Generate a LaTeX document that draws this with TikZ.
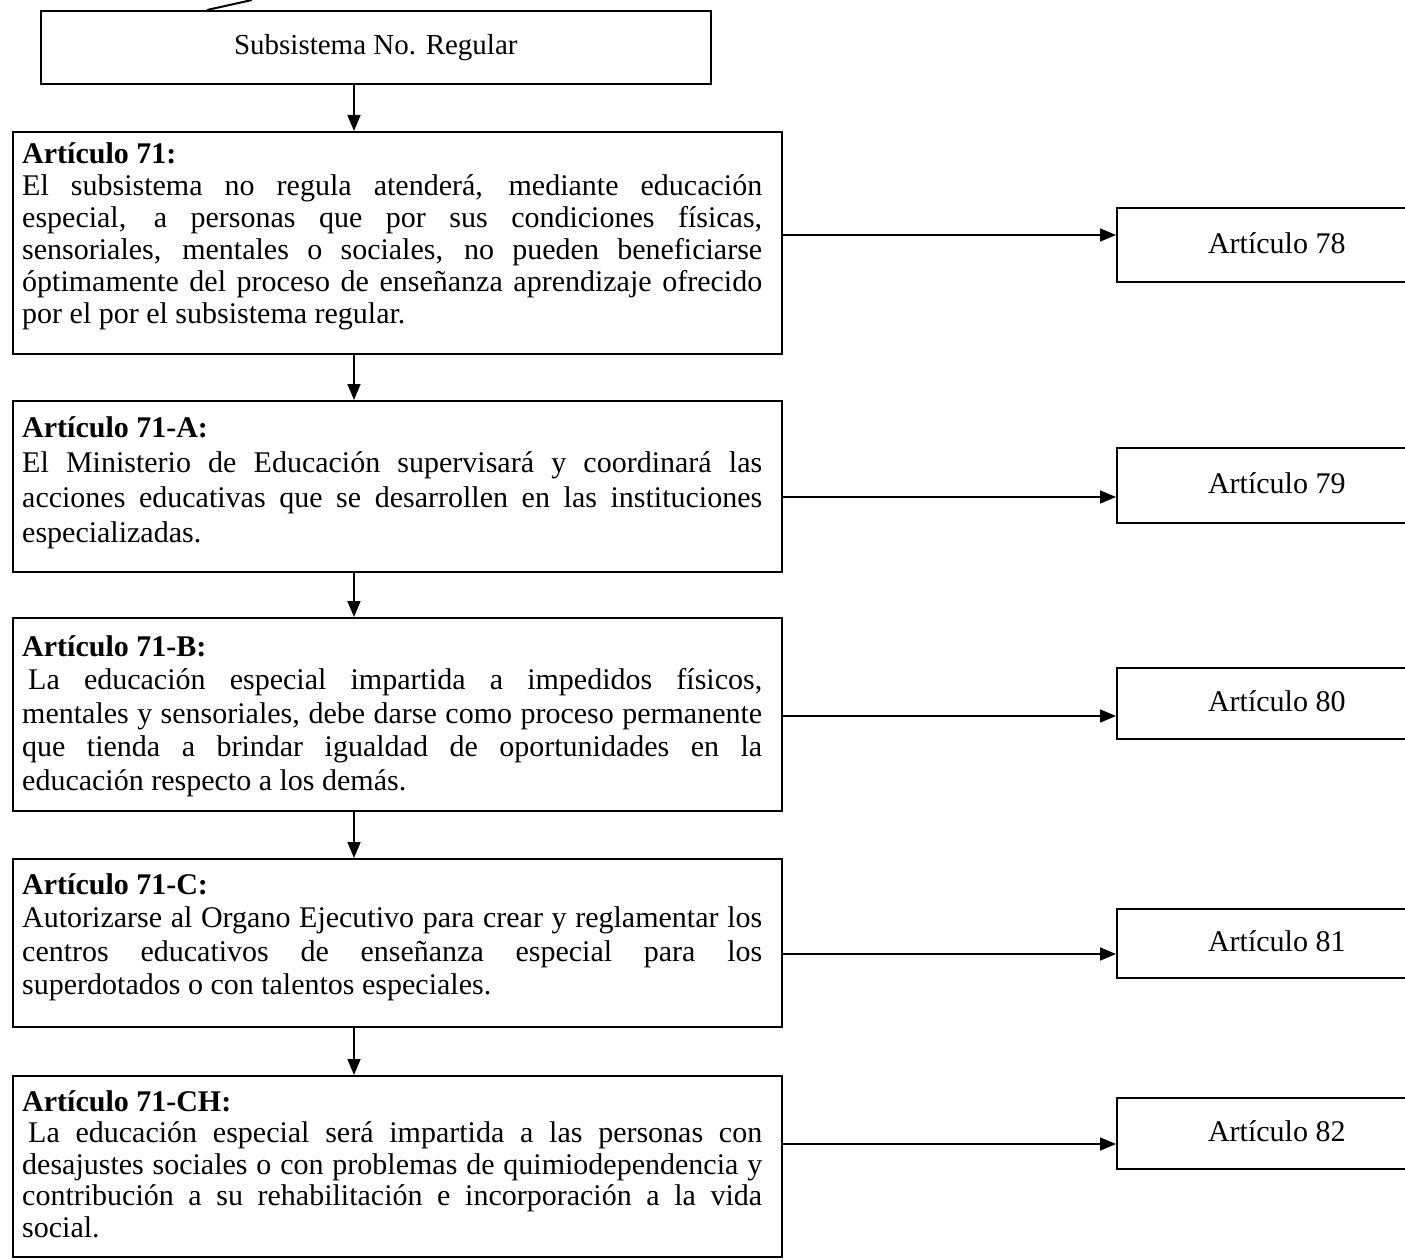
\documentclass[tikz,border=0pt]{standalone}
\usepackage{fontspec}
\setmainfont{Liberation Serif}
\usetikzlibrary{arrows.meta}
\newcommand\jl[1]{\makebox[740pt][s]{#1}\\}
\newcommand\abody[2]{\begin{minipage}[t]{740pt}\fontsize{30pt}{#1}\selectfont #2\end{minipage}}
\begin{document}
\begin{tikzpicture}[x=1pt,y=-1pt,
  bx/.style={draw=black, line width=1.6pt, inner sep=0pt, anchor=north west},
  lbox/.style={bx, minimum width=769pt},
  rbox/.style={bx, minimum width=320pt, font=\fontsize{30pt}{32pt}\selectfont},
  txt/.style={inner sep=0pt, anchor=base west},
  arr/.style={draw=black, line width=1.6pt, -{Triangle[length=16pt,width=13pt]}},
  ln/.style={draw=black, line width=2pt}
]
\useasboundingbox (0,0) rectangle (1405,1260);

% top box
\node[bx, minimum width=670pt, minimum height=73pt, font=\fontsize{29pt}{32pt}\selectfont] (top) at (40,10) {Subsistema No. Regular};
\coordinate (topin) at (252,0);
\draw[ln] (topin) -- ([xshift=167pt]top.north west);

% left boxes
\node[lbox, minimum height=222pt] (b71) at (12,131) {};
\node[lbox, minimum height=171pt] (b71A) at (12,400) {};
\node[lbox, minimum height=193pt] (b71B) at (12,617) {};
\node[lbox, minimum height=168pt] (b71C) at (12,858) {};
\node[lbox, minimum height=181pt] (b71CH) at (12,1075) {};

\node[txt] (t71) at (22,164) {\abody{32pt}{\textbf{Artículo 71:}\\
\jl{El subsistema no regula atenderá, mediante educación}
\jl{especial, a personas que por sus condiciones físicas,}
\jl{sensoriales, mentales o sociales, no pueden beneficiarse}
\jl{óptimamente del proceso de enseñanza aprendizaje ofrecido}
por el por el subsistema regular.}};

\node[txt] (t71A) at (22,437) {\abody{35pt}{\textbf{Artículo 71-A:}\\
\jl{El Ministerio de Educación supervisará y coordinará las}
\jl{acciones educativas que se desarrollen en las instituciones}
especializadas.}};

\node[txt] (t71B) at (22,656) {\abody{33.5pt}{\textbf{Artículo 71-B:}\\
\jl{\hspace*{6pt}La educación especial impartida a impedidos físicos,}
\jl{mentales y sensoriales, debe darse como proceso permanente}
\jl{que tienda a brindar igualdad de oportunidades en la}
educación respecto a los demás.}};

\node[txt] (t71C) at (22,894) {\abody{33.5pt}{\textbf{Artículo 71-C:}\\
\jl{Autorizarse al Organo Ejecutivo para crear y reglamentar los}
\jl{centros educativos de enseñanza especial para los}
superdotados o con talentos especiales.}};

\node[txt] (t71CH) at (22,1111) {\abody{31.5pt}{\textbf{Artículo 71-CH:}\\
\jl{\hspace*{6pt}La educación especial será impartida a las personas con}
\jl{desajustes sociales o con problemas de quimiodependencia y}
\jl{contribución a su rehabilitación e incorporación a la vida}
social.}};

% vertical arrows
\coordinate (ax) at (354,0);
\draw[arr] (top.south -| ax) -- (b71.north -| ax);
\draw[arr] (b71.south -| ax) -- (b71A.north -| ax);
\draw[arr] (b71A.south -| ax) -- (b71B.north -| ax);
\draw[arr] (b71B.south -| ax) -- (b71C.north -| ax);
\draw[arr] (b71C.south -| ax) -- (b71CH.north -| ax);

% right boxes
\node[rbox, minimum height=74pt] (r78) at (1116,207) {\raisebox{4pt}{Artículo 78}};
\node[rbox, minimum height=75pt] (r79) at (1116,447) {\raisebox{4pt}{Artículo 79}};
\node[rbox, minimum height=71pt] (r80) at (1116,667) {\raisebox{4pt}{Artículo 80}};
\node[rbox, minimum height=69pt] (r81) at (1116,908) {\raisebox{4pt}{Artículo 81}};
\node[rbox, minimum height=71pt] (r82) at (1116,1097) {\raisebox{4pt}{Artículo 82}};

% horizontal connectors
\coordinate (c78) at (0,235);
\coordinate (c79) at (0,497);
\coordinate (c80) at (0,716);
\coordinate (c81) at (0,954);
\coordinate (c82) at (0,1144);
\draw[arr] (b71.east |- c78) -- (r78.west |- c78);
\draw[arr] (b71A.east |- c79) -- (r79.west |- c79);
\draw[arr] (b71B.east |- c80) -- (r80.west |- c80);
\draw[arr] (b71C.east |- c81) -- (r81.west |- c81);
\draw[arr] (b71CH.east |- c82) -- (r82.west |- c82);
\end{tikzpicture}
\end{document}
